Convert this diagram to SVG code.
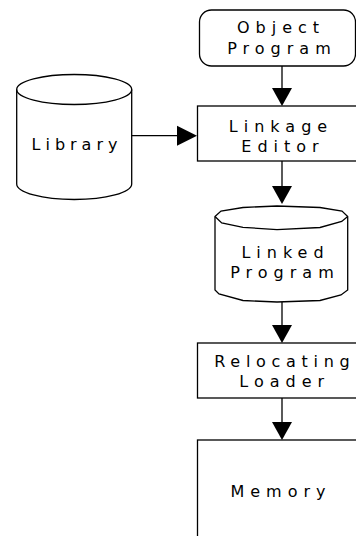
<svg xmlns="http://www.w3.org/2000/svg" width="356" height="536" viewBox="0 0 356 536">
<style>
.s{fill:#fff;stroke:#000;stroke-width:1.3}
.t{font-family:"DejaVu Sans",Verdana,sans-serif;font-size:16px;letter-spacing:6px;text-anchor:middle;fill:#000}
.c{stroke:#000;stroke-width:1.3;fill:none}
.h{fill:#000;stroke:none}
</style>
<rect width="356" height="536" fill="#fff"/>
<g id="object-program">
<rect class="s" x="199.5" y="10" width="156" height="56" rx="12"/>
<text class="t" x="281" y="32.5">Object</text>
<text class="t" x="282" y="53.5">Program</text>
</g>
<g id="linkage-editor">
<rect class="s" x="197.5" y="106" width="170" height="55"/>
<text class="t" x="281" y="132">Linkage</text>
<text class="t" x="283" y="152">Editor</text>
</g>
<g id="library">
<path class="s" d="M16.7,89.5 V184 A57.5,15.5 0 0 0 131.7,184 V89.5 A57.5,15 0 0 0 16.7,89.5 Z"/>
<path class="c" d="M16.7,89.5 A57.5,15 0 0 0 131.7,89.5"/>
<text class="t" x="77" y="150" style="letter-spacing:5px">Library</text>
</g>
<g id="linked-program">
<path class="s" d="M215,216.5 L221,211 L243,207.5 L277,206 L320,207.5 L342,211 L347.7,216.5 V290 L341,295 L320,300.5 L277,302 L243,300.5 L219,294 L215,290 Z"/>
<path class="c" d="M215,216.5 L221.7,223 L243,227.3 L277,229.7 L320,227.5 L341.7,221.5 L347.7,216.5"/>
<text class="t" x="285.5" y="257.7">Linked</text>
<text class="t" x="285" y="277.7">Program</text>
</g>
<g id="relocating-loader">
<rect class="s" x="197.5" y="343" width="170" height="55"/>
<text class="t" x="284.8" y="366.7" style="letter-spacing:5.7px">Relocating</text>
<text class="t" x="284.7" y="387.3">Loader</text>
</g>
<g id="memory">
<rect class="s" x="197.5" y="440" width="170" height="120"/>
<text class="t" x="281" y="496.7">Memory</text>
</g>
<g id="connectors">
<line class="c" x1="282" y1="66" x2="282" y2="89"/>
<polygon class="h" points="272,88 292,88 282,106"/>
<line class="c" x1="131.7" y1="135.7" x2="178" y2="135.7"/>
<polygon class="h" points="177,125.7 177,145.7 197,135.7"/>
<line class="c" x1="282" y1="161" x2="282" y2="187"/>
<polygon class="h" points="272,186 292,186 282,204"/>
<line class="c" x1="282" y1="302" x2="282" y2="326"/>
<polygon class="h" points="272,325 292,325 282,343"/>
<line class="c" x1="282" y1="398" x2="282" y2="423"/>
<polygon class="h" points="272,422 292,422 282,440"/>
</g>
</svg>
